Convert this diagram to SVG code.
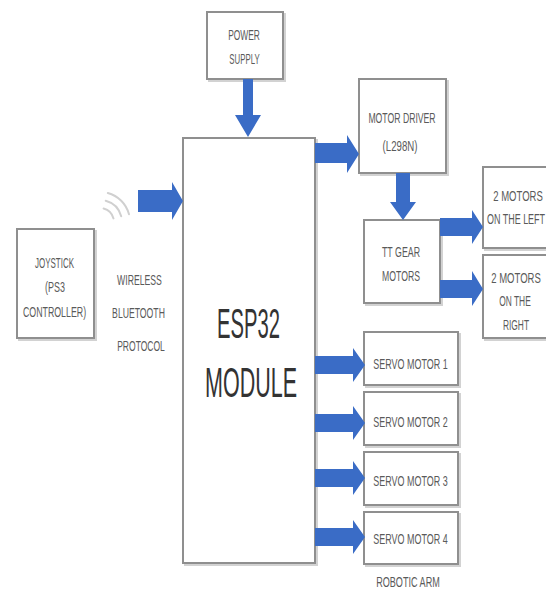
<svg xmlns="http://www.w3.org/2000/svg" width="546" height="592" viewBox="0 0 546 592">
<style>
.box{fill:#fff;stroke:#8f8f8f;stroke-width:2}
.sh{fill:none;stroke:#d2d2d2;stroke-width:2}
.t{font-family:"Liberation Sans",Arial,sans-serif;font-size:14px;fill:#5a5a5a;text-anchor:middle}
.big{font-family:"Liberation Sans",Arial,sans-serif;font-size:43px;fill:#333;text-anchor:middle}
.arr{fill:#3a6cc6}
.wave{fill:none;stroke:#d0d0d0;stroke-width:2;stroke-linecap:round}
</style>
<rect width="546" height="592" fill="#fff"/>

<g id="power-supply">
<rect class="sh" x="209" y="14" width="76" height="67"/>
<rect class="box" x="207" y="12" width="76" height="67"/>
<text class="t" transform="translate(244,40) scale(0.6,1)">POWER</text>
<text class="t" transform="translate(244.5,64) scale(0.56,1)">SUPPLY</text>
</g>

<g id="esp32">
<rect class="sh" x="185" y="140" width="132" height="425"/>
<rect class="box" x="183" y="138" width="132" height="425"/>
<text class="big" transform="translate(248.5,338) scale(0.47,1)">ESP32</text>
<text class="big" transform="translate(251,397) scale(0.5,1)">MODULE</text>
</g>

<g id="motor-driver">
<rect class="sh" x="361" y="81" width="87" height="94"/>
<rect class="box" x="359" y="79" width="87" height="94"/>
<text class="t" transform="translate(402,123) scale(0.62,1)">MOTOR DRIVER</text>
<text class="t" transform="translate(400,151) scale(0.69,1)">(L298N)</text>
</g>

<g id="tt-gear-motors">
<rect class="sh" x="366" y="222" width="76" height="83"/>
<rect class="box" x="364" y="220" width="76" height="83"/>
<text class="t" transform="translate(401,257) scale(0.63,1)">TT GEAR</text>
<text class="t" transform="translate(401,281) scale(0.62,1)">MOTORS</text>
</g>

<g id="motors-left">
<rect class="sh" x="485" y="169" width="68" height="81"/>
<rect class="box" x="483" y="167" width="68" height="81"/>
<text class="t" transform="translate(518,201) scale(0.68,1)">2 MOTORS</text>
<text class="t" transform="translate(516,224) scale(0.64,1)">ON THE LEFT</text>
</g>

<g id="motors-right">
<rect class="sh" x="485" y="257" width="68" height="83"/>
<rect class="box" x="483" y="255" width="68" height="83"/>
<text class="t" transform="translate(516,283) scale(0.68,1)">2 MOTORS</text>
<text class="t" transform="translate(515,306) scale(0.6,1)">ON THE</text>
<text class="t" transform="translate(516,330) scale(0.6,1)">RIGHT</text>
</g>

<g id="servo-1">
<rect class="sh" x="366" y="334" width="94" height="53"/>
<rect class="box" x="364" y="332" width="94" height="53"/>
<text class="t" transform="translate(410.5,369) scale(0.64,1)">SERVO MOTOR 1</text>
</g>
<g id="servo-2">
<rect class="sh" x="366" y="394" width="94" height="53"/>
<rect class="box" x="364" y="392" width="94" height="53"/>
<text class="t" transform="translate(410.5,427) scale(0.64,1)">SERVO MOTOR 2</text>
</g>
<g id="servo-3">
<rect class="sh" x="366" y="454" width="94" height="53"/>
<rect class="box" x="364" y="452" width="94" height="53"/>
<text class="t" transform="translate(410.5,486) scale(0.64,1)">SERVO MOTOR 3</text>
</g>
<g id="servo-4">
<rect class="sh" x="366" y="514" width="94" height="52"/>
<rect class="box" x="364" y="512" width="94" height="52"/>
<text class="t" transform="translate(410.5,544) scale(0.64,1)">SERVO MOTOR 4</text>
</g>
<g id="robotic-arm-label">
<text class="t" transform="translate(408,587) scale(0.65,1)">ROBOTIC ARM</text>
</g>

<g id="joystick">
<rect class="sh" x="19" y="231" width="77" height="109"/>
<rect class="box" x="17" y="229" width="77" height="109"/>
<text class="t" transform="translate(54.5,268) scale(0.57,1)">JOYSTICK</text>
<text class="t" transform="translate(55,292) scale(0.64,1)">(PS3</text>
<text class="t" transform="translate(54.5,317) scale(0.63,1)">CONTROLLER)</text>
</g>

<g id="wireless">
<path class="wave" d="M103.6,208.5 A14,14 0 0 1 113.5,218.4"/>
<path class="wave" d="M105.7,200.8 A22,22 0 0 1 121.2,216.3"/>
<path class="wave" d="M107.8,193 A30,30 0 0 1 129,214.2"/>
<text class="t" transform="translate(139.5,285) scale(0.62,1)">WIRELESS</text>
<text class="t" transform="translate(138.5,318) scale(0.62,1)">BLUETOOTH</text>
<text class="t" transform="translate(141,351) scale(0.61,1)">PROTOCOL</text>
</g>

<g id="connectors">
<polygon class="arr" points="243,79 253,79 253,115 261,115 248,137 235,115 243,115"/>
<polygon class="arr" points="138,190 172,190 172,182 183,201 172,220 172,212 138,212"/>
<polygon class="arr" points="315,143 347,143 347,135 359,154 347,173 347,163 315,163"/>
<polygon class="arr" points="396,173 410,173 410,202 416,202 403,220 390,202 396,202"/>
<polygon class="arr" points="440,218 472,218 472,210 483,227 472,244 472,236 440,236"/>
<polygon class="arr" points="440,280 472,280 472,271 483,289 472,306 472,298 440,298"/>
<polygon class="arr" points="315,356 353,356 353,348 365,365 353,382 353,374 315,374"/>
<polygon class="arr" points="315,414 353,414 353,406 365,423 353,440 353,432 315,432"/>
<polygon class="arr" points="315,469 353,469 353,461 365,478 353,495 353,487 315,487"/>
<polygon class="arr" points="315,528 353,528 353,520 365,537 353,554 353,546 315,546"/>
</g>
</svg>
